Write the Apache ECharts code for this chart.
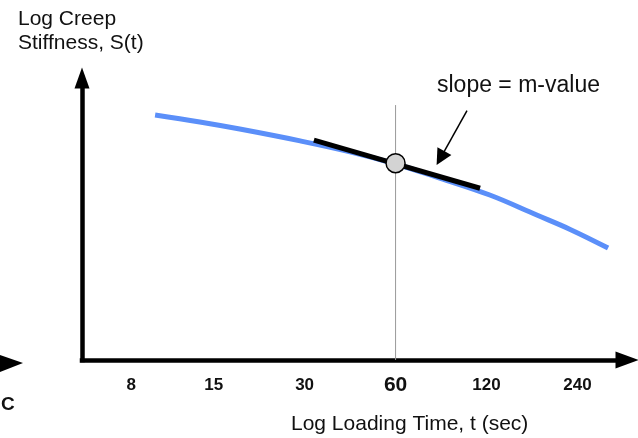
<!DOCTYPE html>
<html>
<head>
<meta charset="utf-8">
<script src="https://cdn.jsdelivr.net/npm/echarts@6/dist/echarts.min.js"></script>
<style>
  html, body { margin: 0; padding: 0; background: #fff; }
  #chart { width: 638px; height: 438px; }
</style>
</head>
<body>
<div id="chart"></div>
<script>
// Loading time (s) tick labels on the log axis
const timeTicks = [8, 15, 30, 60, 120, 240];
// Creep stiffness master curve: [loading time (s), log stiffness (relative units)]
const stiffnessCurve = [
  [9.6, 86.9], [13.5, 84.4], [18.3, 81.9], [29, 77.7], [42.4, 73.8],
  [60, 69.5], [84, 64.5], [123, 58.5], [176, 51.4], [227, 46.3], [303, 39.7]
];
// Tangent at t = 60 s (its slope is the m-value)
const tangentLine = [[32.2, 78.0], [114.2, 60.9]];
// Evaluation point at t = 60 s
const evalPoint = [[60, 69.8]];
// Guide line at t = 60 s
const guideLine = [[60, 0], [60, 90.4]];
// Pointer from the annotation to the tangent
const pointerLine = [[103.4, 88.4], [84.5, 71.6]];

const FONT = '"Liberation Sans", Arial, Helvetica, sans-serif';

const chart = echarts.init(document.getElementById('chart'), null, { renderer: 'canvas' });

chart.setOption({
  animation: false,
  backgroundColor: '#ffffff',
  grid: { left: 82, right: 11, top: 78, bottom: 78, containLabel: false },
  xAxis: {
    type: 'log',
    logBase: 2,
    min: 5.5,
    max: 350,
    axisLine: {
      show: true,
      symbol: ['none', 'triangle'],
      symbolSize: [17, 23],
      lineStyle: { color: '#000', width: 4.5, cap: 'square' }
    },
    axisTick: { show: false },
    splitLine: { show: false },
    minorTick: { show: false },
    axisLabel: {
      customValues: timeTicks,
      margin: 25,
      verticalAlign: 'middle',
      fontFamily: FONT,
      formatter: function (v) {
        const r = Math.round(v);
        return r === 60 ? '{big|' + r + '}' : '{n|' + r + '}';
      },
      rich: {
        n: { fontSize: 17, fontWeight: 'bold', color: '#111', fontFamily: FONT },
        big: { fontSize: 21, fontWeight: 'bold', color: '#111', fontFamily: FONT }
      }
    }
  },
  yAxis: {
    type: 'value',
    min: 0,
    max: 100,
    axisLine: {
      show: true,
      symbol: ['none', 'triangle'],
      symbolSize: [15, 21],
      lineStyle: { color: '#000', width: 4.5, cap: 'square' }
    },
    axisTick: { show: false },
    axisLabel: { show: false },
    splitLine: { show: false }
  },
  graphic: [
    {
      type: 'text', left: 18, top: 9,
      style: { text: 'Log Creep', font: '21px ' + FONT, fill: '#111' }
    },
    {
      type: 'text', left: 18, top: 33,
      style: { text: 'Stiffness, S(t)', font: '21px ' + FONT, fill: '#111' }
    },
    {
      type: 'text', left: 437, top: 74,
      style: { text: 'slope = m-value', font: '23px ' + FONT, fill: '#111' }
    },
    {
      type: 'text', left: 291, top: 414,
      style: { text: 'Log Loading Time, t (sec)', font: '21px ' + FONT, fill: '#111' }
    },
    {
      type: 'text', left: 1, top: 395,
      style: { text: 'C', font: 'bold 19px ' + FONT, fill: '#111' }
    },
    {
      type: 'polygon',
      shape: { points: [[0, 355], [23, 363], [0, 372]] },
      style: { fill: '#000' }
    }
  ],
  series: [
    {
      name: 'guide',
      type: 'line',
      data: guideLine,
      symbol: 'none',
      silent: true,
      lineStyle: { color: '#999', width: 1 },
      z: 1
    },
    {
      name: 'S(t)',
      type: 'line',
      data: stiffnessCurve,
      smooth: 0.4,
      symbol: 'none',
      lineStyle: { color: '#5b8ff9', width: 5 },
      z: 2
    },
    {
      name: 'tangent',
      type: 'line',
      data: tangentLine,
      symbol: 'none',
      lineStyle: { color: '#000', width: 5 },
      z: 3
    },
    {
      name: 'point',
      type: 'scatter',
      data: evalPoint,
      symbol: 'circle',
      symbolSize: 19,
      itemStyle: { color: '#d3d3d3', borderColor: '#000', borderWidth: 1.5, opacity: 1 },
      z: 4
    },
    {
      name: 'pointer',
      type: 'lines',
      coordinateSystem: 'cartesian2d',
      data: [{ coords: pointerLine }],
      symbol: ['none', 'triangle'],
      symbolSize: [10, 16],
      lineStyle: { color: '#000', width: 1.5, opacity: 1, curveness: 0 },
      z: 5
    }
  ]
});
</script>
</body>
</html>
